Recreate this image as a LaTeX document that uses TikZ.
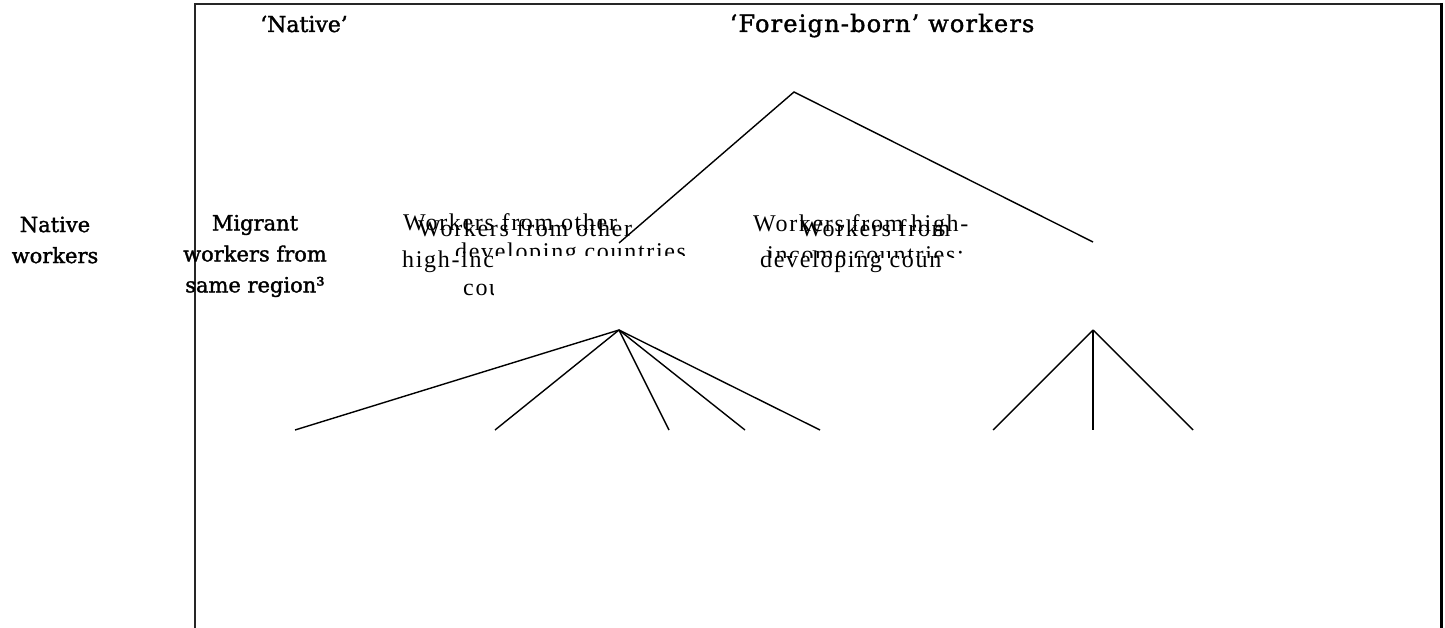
\documentclass[tikz,border=0pt]{standalone}
\usepackage{fontspec}
\setmainfont{Liberation Serif}
\newfontfamily\slabf[FakeBold=1.5]{DejaVu Serif}
\newfontfamily\slabwide[FakeBold=1.5,LetterSpace=5]{DejaVu Serif}
\newfontfamily\wideserif[LetterSpace=7]{Liberation Serif}
\tikzset{
  hdr/.style={inner sep=0pt, anchor=base, font=\slabf\fontsize{22}{26}\selectfont},
  hdrwide/.style={inner sep=0pt, anchor=base, font=\slabwide\fontsize{24}{28}\selectfont},
  cat/.style={inner sep=0pt, anchor=center, align=center, font=\slabf\fontsize{21}{31}\selectfont},
  sub/.style={inner sep=0pt, anchor=base west, font=\wideserif\fontsize{24}{28}\selectfont},
  edge/.style={line width=1.4pt, black},
  frame/.style={line width=2pt, black!85}
}
\begin{document}
\begin{tikzpicture}[x=1pt,y=-1pt]
\useasboundingbox (0,0) rectangle (1445,628);
\fill[white] (0,0) rectangle (1445,628);
% frame
\draw[frame] (195,640) -- (195,4) -- (1441,4);
\draw[line width=3pt, black] (1441,3) -- (1441,640);
% headers
\node[hdr] (hnat) at (304,32) {‘Native’};
\node[hdrwide] (hfor) at (882,32) {‘Foreign-born’ workers};
% categories
\node[cat] (nat) at (55,240) {Native\\workers};
\node[cat] (mig) at (255,256) {Migrant\\workers from\\same region³};
% left sub-block
\node[sub] (a1) at (403,231) {Workers from other};
\node[sub] (a3) at (418,237) {Workers from other};
\begin{scope}
  \clip (0,0) rectangle (493,628);
  \node[sub] (a2) at (402,268) {high-income};
  \node[sub] (a5) at (463,295) {countries};
\end{scope}
\begin{scope}
  \clip (0,0) rectangle (1445,256);
  \node[sub] (a4) at (455,260) {developing countries};
\end{scope}
\begin{scope}
  \clip (0,0) rectangle (1445,258);
  \node[sub] (b2) at (767,262) {income countries:};
\end{scope}
% right sub-block
\node[sub] (b1) at (753,232) {Workers from high-};
\begin{scope}
  \clip (0,0) rectangle (958,628);
  \node[sub] (b3) at (800,237) {Workers from};
\end{scope}
\begin{scope}
  \clip (0,0) rectangle (943,628);
  \node[sub] (b4) at (760,268) {developing countries};
\end{scope}
% tree coordinates
\coordinate (root) at (794,92);
\coordinate (devT) at (619,243);
\coordinate (hiT) at (1093,242);
\coordinate (devB) at (619,330);
\coordinate (hiB) at (1093,330);
\coordinate (l1) at (295,430);
\coordinate (l2) at (495,430);
\coordinate (l3) at (669,430);
\coordinate (l4) at (745,430);
\coordinate (l5) at (820,430);
\coordinate (h1) at (993,430);
\coordinate (h2) at (1093,430);
\coordinate (h3) at (1193,430);
% connectors
\draw[edge] (devT) -- (root) -- (hiT);
\foreach \t in {l1,l2,l3,l4,l5} \draw[edge] (devB) -- (\t);
\foreach \t in {h1,h2,h3} \draw[edge] (hiB) -- (\t);
\end{tikzpicture}
\end{document}
